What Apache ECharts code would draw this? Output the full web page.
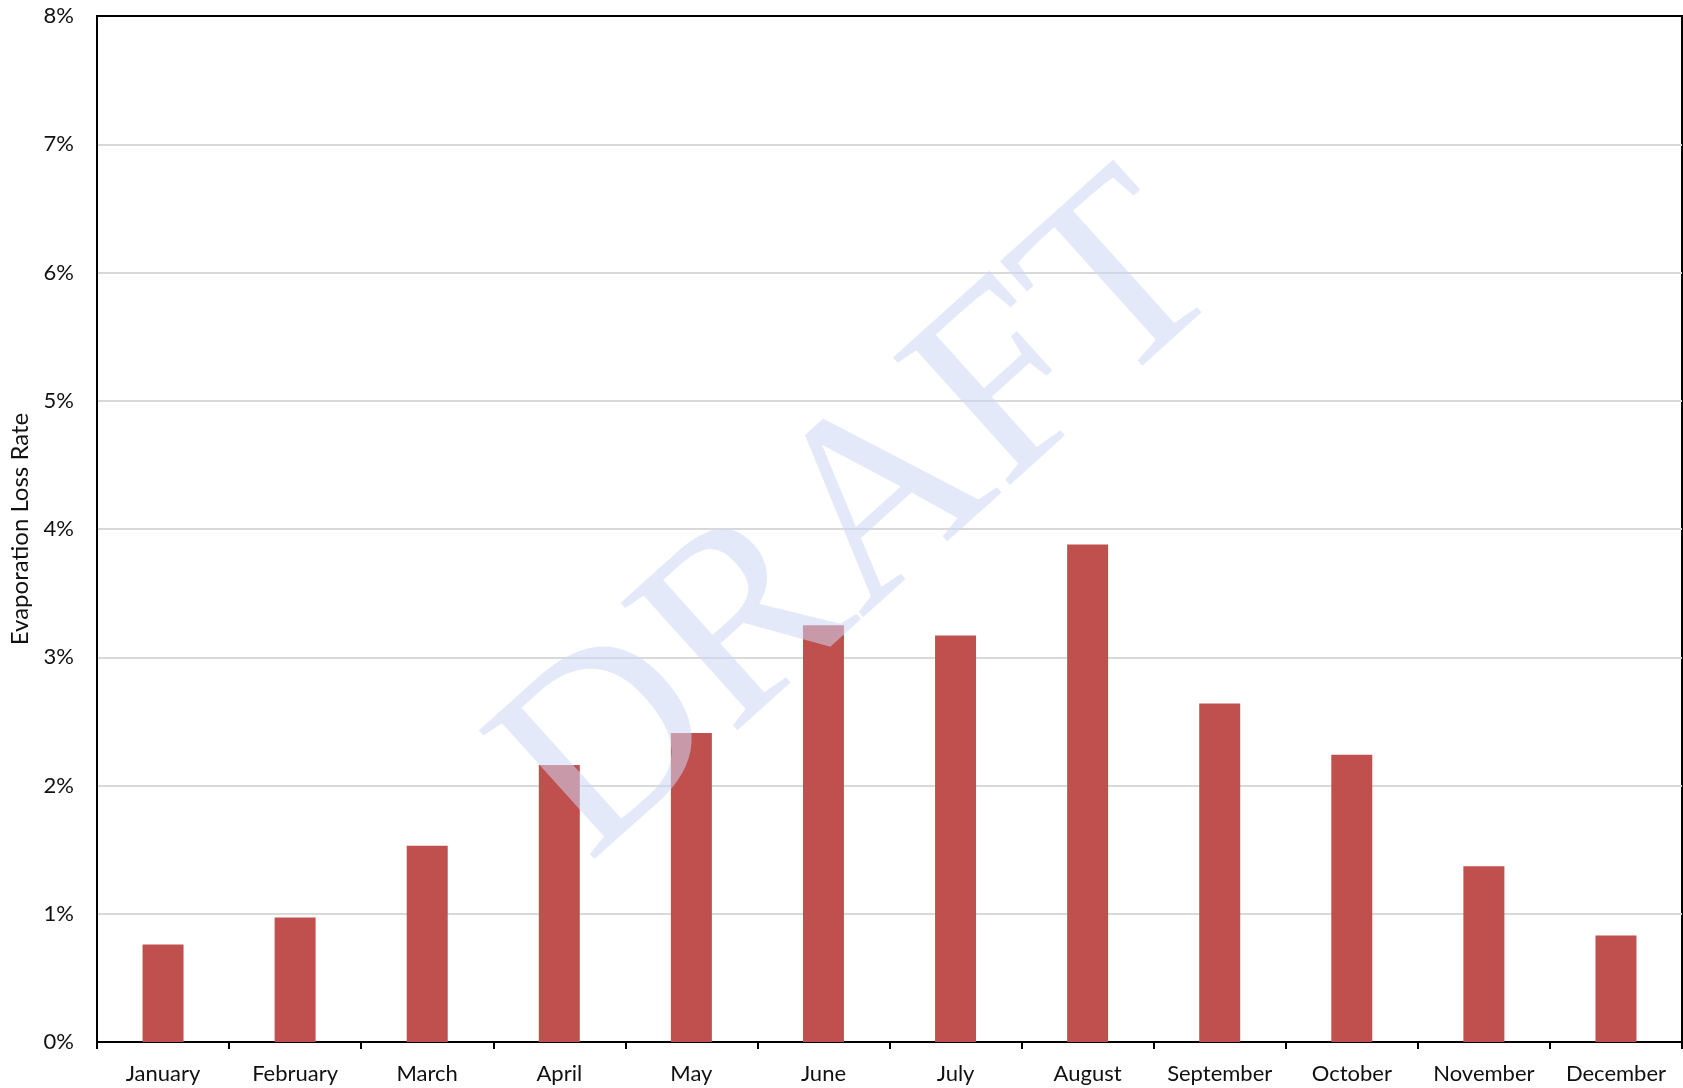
<!DOCTYPE html>
<html>
<head>
<meta charset="utf-8">
<title>Evaporation Loss Rate</title>
<script src="https://cdn.jsdelivr.net/npm/echarts@6/dist/echarts.min.js"></script>
<style>
    html, body {margin: 0; padding: 0; background: #fff;}
    #main_chart {width: 1683px; height: 1088px;}
</style>
</head>
<body>
<div id="main_chart"></div>
<script>
// 数据部分
var month_array = ['January', 'February', 'March', 'April', 'May', 'June',
    'July', 'August', 'September', 'October', 'November', 'December'];
// 蒸发损失率 (%)
var loss_rate_array = [0.76, 0.97, 1.53, 2.16, 2.41, 3.25, 3.17, 3.88, 2.64, 2.24, 1.37, 0.83];
var y_tick_array = [0, 1, 2, 3, 4, 5, 6, 7, 8];

var axis_font = 'Lato';

//描绘柱状图
function loadLossChart(chart_dom_id) {
    var barChart = echarts.init(document.getElementById(chart_dom_id))

    var setOption = {
        animation: false,
        grid: {
            left: 97,
            right: 1,
            top: 16,
            bottom: 46,
            show: true,
            borderColor: '#000',
            borderWidth: 2,
            backgroundColor: 'transparent'
        },
        xAxis: {
            type: 'category',
            data: month_array,
            axisLine: {lineStyle: {color: '#000', width: 2}},
            axisTick: {show: true, length: 7, lineStyle: {color: '#000', width: 2}},
            axisLabel: {
                color: '#111',
                fontFamily: axis_font,
                fontSize: 22,
                margin: 21,
                interval: 0
            }
        },
        yAxis: {
            type: 'value',
            min: y_tick_array[0],
            max: y_tick_array[y_tick_array.length - 1],
            interval: 1,
            name: 'Evaporation Loss Rate',
            nameLocation: 'middle',
            nameGap: 62,
            nameTextStyle: {color: '#111', fontFamily: axis_font, fontSize: 24},
            axisLine: {show: true, lineStyle: {color: '#000', width: 2}},
            axisTick: {show: false},
            axisLabel: {
                color: '#111',
                fontFamily: axis_font,
                fontSize: 22,
                margin: 23,
                formatter: '{value}%'
            },
            splitLine: {showMaxLine: false, lineStyle: {color: '#d9d9d9', width: 2}}
        },
        series: [{
            name: 'Evaporation Loss Rate',
            type: 'bar',
            data: loss_rate_array,
            barWidth: 41,
            itemStyle: {color: '#c0504d'}
        }],
        // 水印
        graphic: [{
            type: 'text',
            x: 864,
            y: 523,
            z: 100,
            rotation: 42 * Math.PI / 180,
            style: {
                text: 'DRAFT',
                fontFamily: 'Liberation Serif',
                fontSize: 264,
                fill: 'rgba(205,215,245,0.55)',
                textAlign: 'center',
                textVerticalAlign: 'middle'
            }
        }]
    }
    barChart.setOption(setOption)
    return barChart;
}

loadLossChart('main_chart');
</script>
</body>
</html>
